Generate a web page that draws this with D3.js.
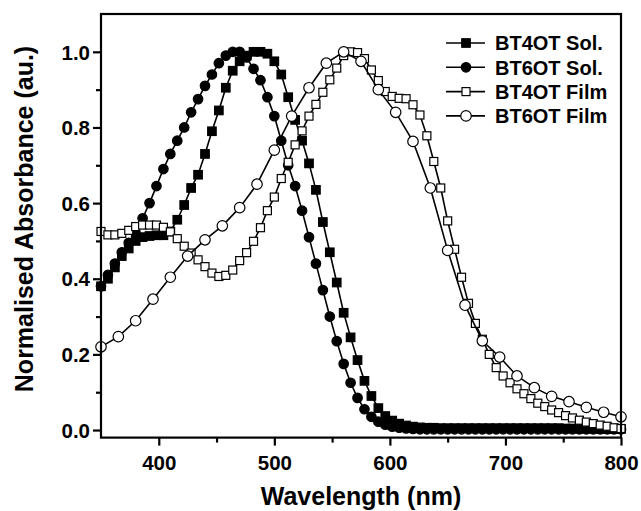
<!DOCTYPE html>
<html><head><meta charset="utf-8">
<script src="https://cdn.jsdelivr.net/npm/d3@7"></script>
<style>body{margin:0;background:#fff}svg{display:block}text{font-family:"Liberation Sans",Arial,sans-serif;font-weight:bold}</style>
</head><body><div id="chart"></div>
<script>
// wavelength grid (nm) for densely-marked series
const wlDense = d3.range(350, 801, 6);
const bt4otSol = [0.38,0.40,0.43,0.46,0.48,0.50,0.51,0.513,0.515,0.515,0.525,0.556,0.595,0.64,0.675,0.73,0.79,0.845,0.905,0.95,0.975,0.99,1.0,1.0,0.995,0.975,0.94,0.88,0.82,0.765,0.705,0.635,0.55,0.47,0.39,0.31,0.245,0.185,0.13,0.09,0.058,0.037,0.025,0.017,0.012,0.009,0.007,0.006,0.006,0.005,0.005,0.005,0.005,0.005,0.005,0.005,0.005,0.005,0.005,0.005,0.005,0.005,0.005,0.005,0.005,0.005,0.005,0.004,0.004,0.004,0.004,0.004,0.003,0.003,0.003,0.003];
const bt6otSol = [0.38,0.41,0.44,0.47,0.495,0.52,0.56,0.60,0.645,0.69,0.73,0.765,0.80,0.84,0.875,0.91,0.94,0.97,0.99,1.0,1.0,0.985,0.955,0.925,0.88,0.83,0.765,0.70,0.645,0.58,0.51,0.44,0.37,0.30,0.235,0.175,0.125,0.085,0.055,0.035,0.022,0.014,0.009,0.006,0.004,0.003,0.002,0.002,0.002,0.002,0.002,0.002,0.002,0.002,0.002,0.002,0.002,0.002,0.002,0.002,0.002,0.002,0.002,0.002,0.002,0.002,0.002,0.002,0.002,0.002,0.002,0.002,0.002,0.002,0.002,0.002];
const bt4otFilm = [0.525,0.516,0.516,0.52,0.528,0.538,0.542,0.542,0.542,0.536,0.524,0.506,0.486,0.468,0.45,0.432,0.415,0.406,0.409,0.423,0.448,0.469,0.499,0.535,0.58,0.616,0.665,0.708,0.754,0.791,0.83,0.861,0.893,0.926,0.957,0.99,1.0,0.998,0.982,0.952,0.924,0.895,0.882,0.877,0.876,0.86,0.833,0.778,0.71,0.64,0.553,0.478,0.404,0.335,0.282,0.24,0.2,0.165,0.143,0.125,0.109,0.096,0.083,0.071,0.062,0.053,0.046,0.038,0.032,0.026,0.021,0.017,0.013,0.01,0.006,0.004];
// wavelength grid (nm) for BT6OT film
const wlFilm6 = d3.range(350, 801, 15);
const bt6otFilm = [0.22,0.247,0.289,0.346,0.404,0.46,0.503,0.54,0.588,0.65,0.74,0.83,0.905,0.97,1.0,0.975,0.90,0.84,0.763,0.64,0.475,0.33,0.236,0.193,0.143,0.112,0.089,0.075,0.06,0.047,0.035];
const seriesNames = ["BT4OT Sol.","BT6OT Sol.","BT4OT Film","BT6OT Film"];
const xTicks = [400,500,600,700,800];
const yTicks = [0.0,0.2,0.4,0.6,0.8,1.0];

const W = 641, H = 511;
const svg = d3.select("#chart").append("svg").attr("width", W).attr("height", H);
const x = d3.scaleLinear().domain([350, 800]).range([101, 621]);
const y = d3.scaleLinear().domain([-0.02, 1.1]).range([437.6, 14]);

const series = [
  {name: seriesNames[0], wl: wlDense, v: bt4otSol, shape: "square", fill: "#000", size: 8.5},
  {name: seriesNames[1], wl: wlDense, v: bt6otSol, shape: "circle", fill: "#000", size: 9.5},
  {name: seriesNames[2], wl: wlDense, v: bt4otFilm, shape: "square", fill: "#fff", size: 8},
  {name: seriesNames[3], wl: wlFilm6, v: bt6otFilm, shape: "circle", fill: "#fff", size: 10.5}
];

const line = d3.line().x(d => x(d[0])).y(d => y(d[1]));
function marker(g, s, cx, cy) {
  if (s.shape === "square") {
    g.append("rect").attr("x", cx - s.size/2).attr("y", cy - s.size/2)
      .attr("width", s.size).attr("height", s.size)
      .attr("fill", s.fill).attr("stroke", "#000").attr("stroke-width", 1.2);
  } else {
    g.append("circle").attr("cx", cx).attr("cy", cy).attr("r", s.size/2)
      .attr("fill", s.fill).attr("stroke", "#000").attr("stroke-width", 1.2);
  }
}
const plot = svg.append("g");
series.forEach(s => {
  const pts = s.wl.map((w, i) => [w, s.v[i]]);
  const g = plot.append("g");
  g.append("path").attr("d", line(pts)).attr("fill", "none").attr("stroke", "#000").attr("stroke-width", 1.6);
  pts.forEach(p => marker(g, s, x(p[0]), y(p[1])));
});

// frame
svg.append("rect").attr("x", 101).attr("y", 14).attr("width", 520).attr("height", 423.6)
  .attr("fill", "none").attr("stroke", "#000").attr("stroke-width", 2.2);

// axes
const xAxis = svg.append("g").attr("transform", "translate(0,437.6)")
  .call(d3.axisBottom(x).tickValues(xTicks).tickSize(8).tickFormat(d3.format("d")));
const xMinor = svg.append("g").attr("transform", "translate(0,437.6)")
  .call(d3.axisBottom(x).tickValues([450,550,650,750]).tickSize(5).tickFormat(""));
const yAxis = svg.append("g").attr("transform", "translate(101,0)")
  .call(d3.axisLeft(y).tickValues(yTicks).tickSize(8).tickFormat(d3.format(".1f")));
const yMinor = svg.append("g").attr("transform", "translate(101,0)")
  .call(d3.axisLeft(y).tickValues([0.1,0.3,0.5,0.7,0.9]).tickSize(5).tickFormat(""));
[xAxis, xMinor, yAxis, yMinor].forEach(a => {
  a.select(".domain").remove();
  a.selectAll(".tick line").attr("stroke", "#000").attr("stroke-width", 2.2);
  a.selectAll(".tick text").attr("fill", "#000").style("font-size", "20.5px").style("font-weight", "bold")
    .style("font-family", '"Liberation Sans", Arial, sans-serif');
});
xAxis.selectAll(".tick text").attr("dy", "0").attr("y", 32);
yAxis.selectAll(".tick text").attr("x", -11).attr("dy", "0.35em");

// axis titles
svg.append("text").attr("x", 361).attr("y", 505).attr("text-anchor", "middle")
  .style("font-size", "25px").text("Wavelength (nm)");
svg.append("text").attr("transform", "translate(33,219) rotate(-90)").attr("text-anchor", "middle")
  .style("font-size", "25px").text("Normalised Absorbance (au.)");

// legend
const leg = svg.append("g");
series.forEach((s, i) => {
  const ly = 43 + i * 24.3;
  leg.append("line").attr("x1", 446).attr("x2", 485).attr("y1", ly).attr("y2", ly)
    .attr("stroke", "#000").attr("stroke-width", 1.6);
  marker(leg, s, 466, ly);
  leg.append("text").attr("x", 495).attr("y", ly).attr("dy", "0.36em")
    .style("font-size", "20px").text(s.name);
});
</script></body></html>
